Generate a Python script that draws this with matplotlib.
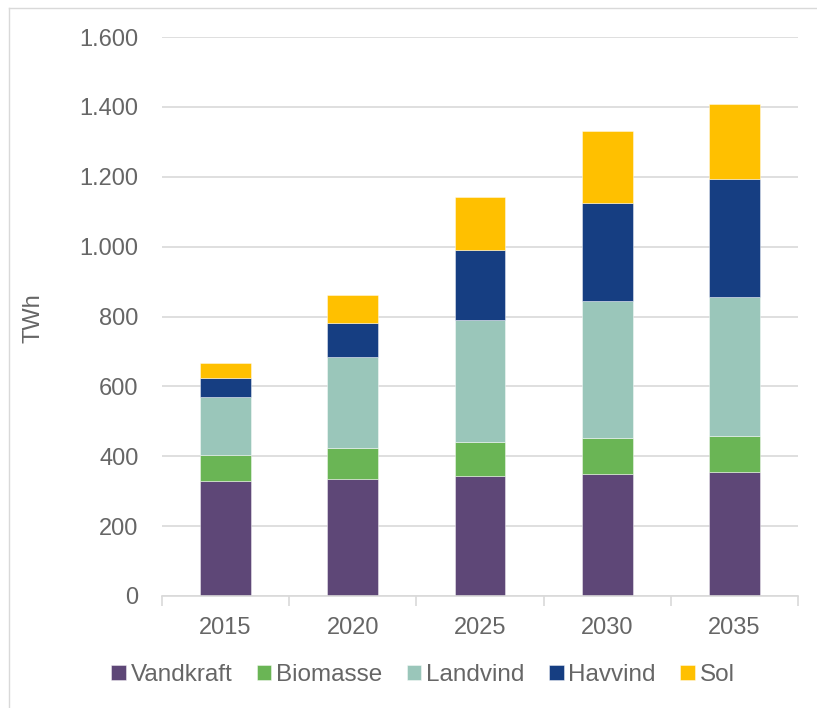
import matplotlib
matplotlib.use("Agg")
import matplotlib.pyplot as plt
from matplotlib.ticker import FuncFormatter
from matplotlib.lines import Line2D
import numpy as np

years = ["2015", "2020", "2025", "2030", "2035"]
vandkraft = [329, 334, 343, 350, 356]
biomasse = [76, 91, 97, 103, 101]
landvind = [165, 260, 350, 391, 398]
havvind = [53, 96, 201, 282, 338]
sol = [45, 81, 152, 204, 215]

series = [
    ("Vandkraft", vandkraft, "#5E4777"),
    ("Biomasse", biomasse, "#6AB555"),
    ("Landvind", landvind, "#9AC6BA"),
    ("Havvind", havvind, "#163E82"),
    ("Sol", sol, "#FFC000"),
]

plt.rcParams['font.family'] = ['Liberation Sans', 'DejaVu Sans']
txt = "#666666"

W, H = 817, 708
fig = plt.figure(figsize=(W/100, H/100), dpi=100)
ax = fig.add_axes([162/W, (H-596)/H, (798-162)/W, (596-37)/H])

x = np.arange(len(years))
bottom = np.zeros(len(years))
for name, vals, col in series:
    ax.bar(x, vals, 0.4, bottom=bottom, color=col, label=name,
           edgecolor=(1, 1, 1, 0.5), linewidth=0.6, zorder=3)
    bottom += np.array(vals)

ax.set_xlim(-0.5, len(years) - 0.5)
ax.set_ylim(0, 1600)
ax.set_yticks(np.arange(0, 1601, 200))
ax.yaxis.set_major_formatter(FuncFormatter(lambda v, p: f"{int(v):,}".replace(",", ".")))
ax.set_xticks(x)
ax.set_xticklabels(years)
ax.grid(axis='y', color="#D9D9D9", linewidth=1.2, zorder=0)
for s in ["top", "right", "left"]:
    ax.spines[s].set_visible(False)
ax.spines["bottom"].set_color("#D9D9D9")
ax.spines["bottom"].set_linewidth(1.2)
ax.spines["bottom"].set_zorder(4)
ax.tick_params(axis='y', length=0, pad=17, labelsize=17, labelcolor=txt)
ax.tick_params(axis='x', length=0, pad=15, labelsize=17, labelcolor=txt)
ax.set_xticks(np.arange(-0.5, len(years), 1), minor=True)
ax.tick_params(axis='x', which='minor', length=7, color="#D9D9D9", width=1.2)

fig.text(33/W, 1 - 318/H, "TWh", rotation=90, ha='center', va='center',
         fontsize=17, color=txt)

leg = fig.legend(loc='center', bbox_to_anchor=(423/W, 1 - 675/H), ncol=5,
                 frameon=False, fontsize=17.5, handlelength=0.6, handleheight=0.6,
                 handletextpad=0.2, columnspacing=1.0, labelcolor=txt)

fig.add_artist(Line2D([9/W, 9/W], [0, 1 - 8/H], transform=fig.transFigure,
                      color="#D9D9D9", linewidth=1))
fig.add_artist(Line2D([9/W, 1], [1 - 8/H, 1 - 8/H], transform=fig.transFigure,
                      color="#D9D9D9", linewidth=1))

fig.savefig("out.png", dpi=100)
